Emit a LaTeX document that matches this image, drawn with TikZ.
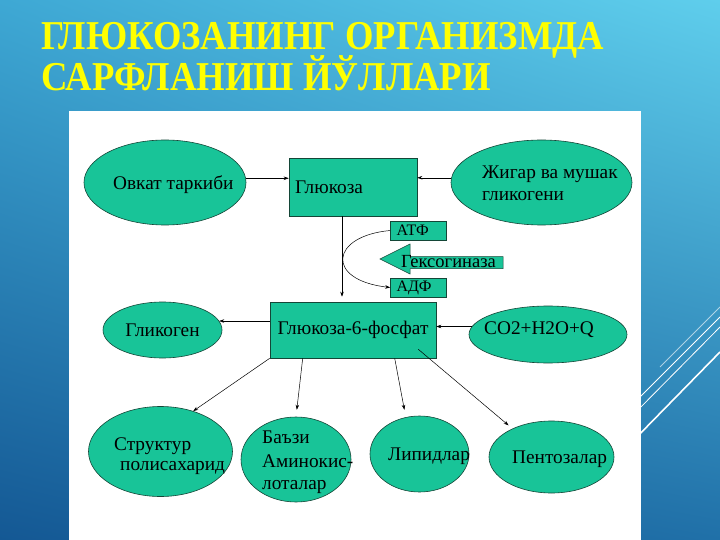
\documentclass[tikz,border=0pt]{standalone}
\usepackage{fontspec}
\setmainfont{Liberation Serif}
\usetikzlibrary{shapes.geometric,arrows.meta,calc,shadings}
\definecolor{tealf}{RGB}{24,196,152}
\definecolor{edgec}{RGB}{20,70,55}
\definecolor{ttl}{RGB}{255,255,0}
\definecolor{bgUL}{RGB}{62,168,212}
\definecolor{bgUR}{RGB}{95,206,236}
\definecolor{bgLL}{RGB}{20,88,148}
\definecolor{bgLR}{RGB}{32,112,168}
\begin{document}
\begin{tikzpicture}[x=1pt,y=-1pt,
  ell/.style={ellipse,draw=edgec,line width=0.6pt,fill=tealf,inner sep=0pt},
  box/.style={rectangle,draw=edgec,line width=0.6pt,fill=tealf,inner sep=0pt},
  big/.style={font=\fontsize{19.3}{21}\selectfont},
  sml/.style={font=\fontsize{16}{18}\selectfont},
  lab/.style={big,inner sep=0pt,anchor=base west},
  ttlstyle/.style={anchor=base west,inner sep=0pt,text=ttl,font=\fontsize{41}{45}\selectfont\bfseries},
  wline/.style={draw=white,line width=1pt},
  arr/.style={draw=black,line width=0.5pt,-{Stealth[length=5pt,width=3.5pt]}}]
\useasboundingbox (0,0) rectangle (720,540);
% background
\shade[upper left=bgUL, upper right=bgUR, lower left=bgLL, lower right=bgLR] (0,0) rectangle (720,540);
% decorative white lines
\draw[wline,line width=0.8pt,draw opacity=0.6] (660,367) -- (720,307);
\draw[wline] (630,407) -- (720,317);
\draw[wline,line width=0.8pt] (630,418) -- (720,327);
\draw[wline,line width=1.6pt] (630,444) -- (720,352);
% white panel
\fill[white] (69,111) rectangle (641,540);
% title
\node[ttlstyle] (title1) at (41,50) {\scalebox{0.893}[1]{ГЛЮКОЗАНИНГ ОРГАНИЗМДА}};
\node[ttlstyle] (title2) at (41,91) {\scalebox{0.895}[1]{САРФЛАНИШ ЙЎЛЛАРИ}};
% top row
\node[ell,minimum width=162pt,minimum height=85pt] (ovk) at (165,182.5) {};
\node[lab] (ovkt) at (113,190) {Овкат таркиби};
\node[box,big,minimum height=58pt,text width=116pt,inner xsep=6pt,align=left] (glu) at (353,187) {Глюкоза};
\node[ell,minimum width=181pt,minimum height=85pt] (jig) at (541.5,182.5) {};
\node[lab] (jigt1) at (482,179) {Жигар ва мушак};
\node[lab] (jigt2) at (482,201) {гликогени};
% ATP / hexokinase / ADP
\node[box,sml,minimum height=19pt,text width=44pt,inner xsep=6pt,align=left] (atf) at (418.5,230.5) {АТФ};
\draw[fill=tealf,draw=edgec,line width=0.5pt] (380,259) -- (410,244) -- (410,256.5) -- (503,256.5) -- (503,268.5) -- (410,268.5) -- (410,274) -- cycle;
\node[inner sep=0pt,anchor=base west,font=\fontsize{18.5}{20}\selectfont] (hex) at (401,267) {Гексогиназа};
\node[box,sml,minimum height=19pt,text width=44pt,inner xsep=6pt,align=left] (adf) at (418.5,287.5) {АДФ};
% middle row
\node[box,big,minimum width=166pt,minimum height=56pt] (g6p) at (353,330) {Глюкоза-6-фосфат};
\node[ell,big,minimum width=119pt,minimum height=56pt] (gly) at (162.5,330) {Гликоген};
\node[ell,minimum width=158pt,minimum height=57pt] (co) at (548,334.5) {};
\node[lab] (cot) at (484,334) {CO2+H2O+Q};
% bottom row
\node[ell,minimum width=144pt,minimum height=90pt] (str) at (160.5,451.5) {};
\node[lab] (strt1) at (114,450) {Структур};
\node[lab] (strt2) at (120,470) {полисахарид};
\node[ell,minimum width=110pt,minimum height=85pt] (baz) at (296,459.5) {};
\node[lab] (bazt1) at (262,443) {Баъзи};
\node[lab] (bazt2) at (262,467) {Аминокис-};
\node[lab] (bazt3) at (262,489) {лоталар};
\node[ell,minimum width=99pt,minimum height=76pt] (lip) at (419.5,454) {};
\node[lab] (lipt) at (388,460) {Липидлар};
\node[ell,minimum width=125pt,minimum height=72pt] (pen) at (551.5,457) {};
\node[lab] (pent) at (512,463) {Пентозалар};
% connectors
\draw[arr] (ovk.3) -- (ovk.3 -| glu.west);
\draw[arr] (jig.177) -- (jig.177 -| glu.east);
\draw[arr] ([xshift=-11pt]glu.south) -- ([xshift=-11pt,yshift=5pt]g6p.north);
\draw[arr] (atf.west) .. controls (330,236) and (325,280) .. (adf.west);
\draw[arr] (gly.9 -| g6p.west) -- (gly.9);
\draw[arr] (co.174) -- (co.174 -| g6p.east);
\draw[arr] (g6p.south west) -- (str.51);
\draw[arr,shorten >=7pt] ([xshift=33pt]g6p.south west) -- (baz.north);
\draw[arr,shorten >=6pt] ([xshift=125pt]g6p.south west) -- ([xshift=-14pt]lip.north);
\draw[arr,shorten >=5pt] ([xshift=-18pt,yshift=9pt]g6p.south east) -- (pen.144);
\end{tikzpicture}
\end{document}
